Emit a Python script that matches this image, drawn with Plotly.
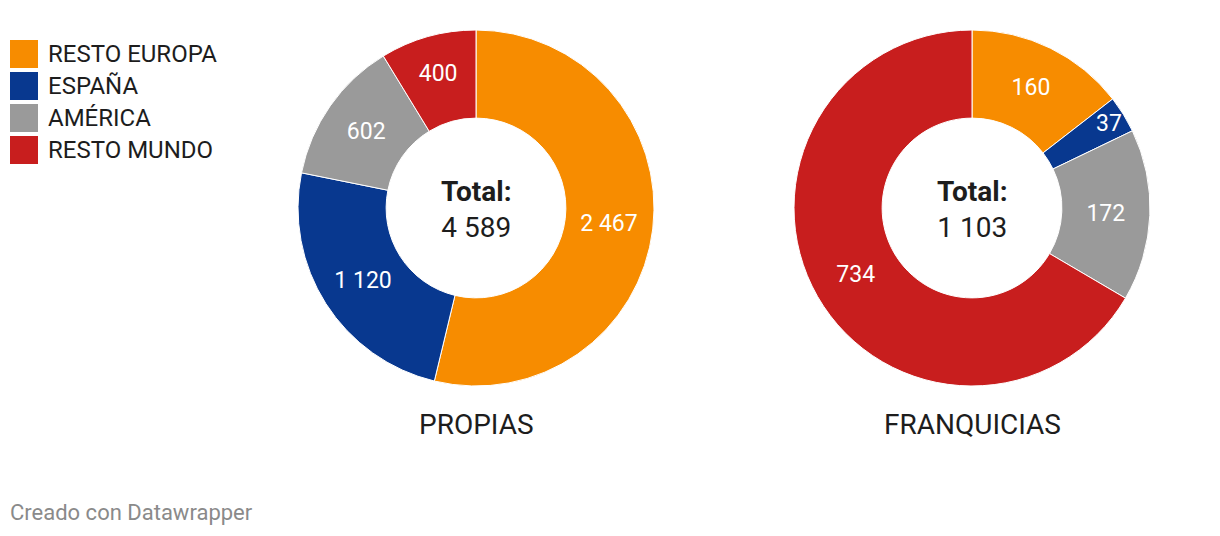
import plotly.graph_objects as go

categories = ["RESTO EUROPA", "ESPAÑA", "AMÉRICA", "RESTO MUNDO"]
colors = ["#f78c00", "#08388f", "#9a9a9a", "#c81e1e"]
propias = [2467, 1120, 602, 400]
franquicias = [160, 37, 172, 734]
panel_titles = ["PROPIAS", "FRANQUICIAS"]

W, H = 1220, 536
FONT = "Roboto"


def fmt(v):
    return f"{v:,}".replace(",", " ")


def px(x):
    return x / W


def py(y):
    return 1 - y / H


domains = [
    dict(x=[px(298), px(654)], y=[py(386), py(30)]),
    dict(x=[px(794), px(1150)], y=[py(386), py(30)]),
]

fig = go.Figure()
for values, dom, title in zip([propias, franquicias], domains, panel_titles):
    fig.add_trace(go.Pie(
        labels=categories,
        values=values,
        text=[fmt(v) for v in values],
        textinfo="text",
        textposition="inside",
        insidetextorientation="horizontal",
        textfont=dict(family=FONT, size=23, color="white"),
        marker=dict(colors=colors, line=dict(color="white", width=1)),
        hole=0.505,
        sort=False,
        direction="clockwise",
        rotation=0,
        domain=dom,
        showlegend=False,
        hoverinfo="label+value",
    ))
    cx = (dom["x"][0] + dom["x"][1]) / 2
    cy = (dom["y"][0] + dom["y"][1]) / 2
    fig.add_annotation(x=cx, y=py(209), xref="paper", yref="paper",
                       xanchor="center", yanchor="middle",
                       text="<b>Total:</b><br>" + fmt(sum(values)),
                       showarrow=False, align="center",
                       font=dict(family=FONT, size=28, color="#1d1d1d"))
    fig.add_annotation(x=cx, y=py(424), xref="paper", yref="paper",
                       xanchor="center", yanchor="middle",
                       text=title, showarrow=False,
                       font=dict(family=FONT, size=28, color="#1d1d1d"))

# legend
for i, (cat, col) in enumerate(zip(categories, colors)):
    y0 = 40 + i * 32
    fig.add_shape(type="rect", xref="paper", yref="paper",
                  x0=px(10), x1=px(38), y0=py(y0 + 28), y1=py(y0),
                  fillcolor=col, line=dict(width=0))
    fig.add_annotation(x=px(46), y=py(y0 + 14), xref="paper", yref="paper",
                       text=cat, showarrow=False, xanchor="left", yanchor="middle",
                       font=dict(family=FONT, size=24, color="#1d1d1d"))

fig.add_annotation(x=px(8), y=py(512), xref="paper", yref="paper",
                   text="Creado con Datawrapper", showarrow=False,
                   xanchor="left", yanchor="middle",
                   font=dict(family=FONT, size=22, color="#8a8a8a"))

fig.update_layout(
    width=W, height=H,
    margin=dict(l=0, r=0, t=0, b=0),
    paper_bgcolor="white", plot_bgcolor="white",
    uniformtext=dict(minsize=23, mode="show"),
)

fig.write_html("out.html", config={"displayModeBar": False})
